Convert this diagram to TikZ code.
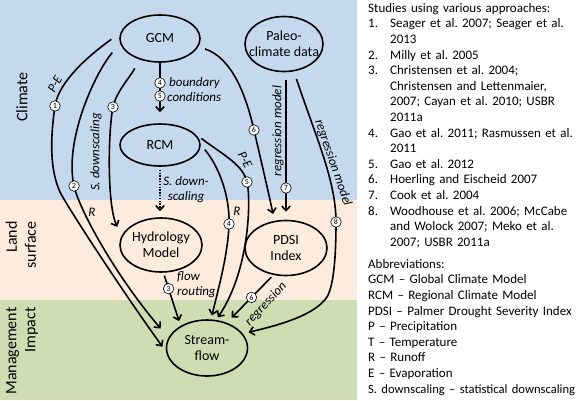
\documentclass[tikz,border=0pt]{standalone}
\usepackage{fontspec}
\setmainfont{Carlito}
\usetikzlibrary{arrows.meta,shapes.geometric}
\definecolor{bandblue}{RGB}{197,217,238}
\definecolor{bandbeige}{RGB}{253,235,221}
\definecolor{bandgreen}{RGB}{207,222,178}
\pgfdeclarelayer{bg}
\pgfdeclarelayer{lines}
\pgfsetlayers{bg,lines,main}
\newcommand\stitem[2]{\par\hangindent=22pt\hangafter=1\noindent\makebox[22pt][l]{#1}#2\par}
\begin{document}
\begin{tikzpicture}[x=1pt,y=-1pt,
  ell/.style={ellipse, draw, line width=1.6pt, inner sep=0pt},
  elltext/.style={align=center, inner sep=0pt, font=\fontsize{14}{16}\selectfont},
  conn/.style={line width=1.6pt, -{Straight Barb[length=4.5pt,width=8.5pt]}},
  num/.style={circle, draw, line width=0.6pt, fill=white, inner sep=0pt, minimum size=10.5pt, font=\fontsize{8}{8}\selectfont},
  lbl/.style={font=\fontsize{13}{15}\selectfont\itshape, inner sep=0pt},
  side/.style={font=\fontsize{16}{19}\selectfont, inner sep=0pt}]
\useasboundingbox (0,0) rectangle (579,400);
\begin{pgfonlayer}{bg}
\fill[bandblue] (0,0) rectangle (357,200);
\fill[bandbeige] (0,200) rectangle (357,300);
\fill[bandgreen] (0,300) rectangle (357,400);
\end{pgfonlayer}

% side labels
\node[side, rotate=90] (lclim) at (22,97) {Climate};
\node[side, rotate=90, align=right] (lland) at (21,245) {Land\\surface};
\node[side, rotate=90, align=right] (lman) at (22,351) {Management\\Impact};

% main nodes
\node[ell, minimum width=80pt, minimum height=47pt, label={[elltext]center:GCM}] (gcm) at (160,38.5) {};
\node[ell, minimum width=80pt, minimum height=42pt, label={[elltext]center:RCM}] (rcm) at (160,145) {};
\node[ell, minimum width=78pt, minimum height=55pt, label={[elltext]center:{Paleo-\\climate data}}] (paleo) at (284,44) {};
\node[ell, minimum width=82pt, minimum height=54pt, label={[elltext]center:{Hydrology\\Model}}] (hm) at (161,245) {};
\node[ell, minimum width=82pt, minimum height=55pt, label={[elltext]center:{PDSI\\Index}}] (pdsi) at (286,248) {};
\node[ell, minimum width=81pt, minimum height=56pt, label={[elltext]center:{Stream-\\flow}}] (sf) at (207,348) {};

% badges on curves
\node[num] (b1) at (55,106) {1};
\node[num] (b2) at (74,186) {2};
\node[num] (b3) at (113,107) {3};
\node[num] (b4a) at (160,83) {4};
\node[num] (b5a) at (160,96) {5};
\node[num] (b4) at (229,224) {4};
\node[num] (b5) at (247,182) {5};
\node[num] (b6) at (254,130) {6};
\node[num] (b7) at (286,188) {7};
\node[num] (b8) at (336,222) {8};

\begin{pgfonlayer}{lines}
% 1: GCM -> Streamflow (P-E)
\draw[conn, shorten <=11pt, shorten >=6pt] (gcm.172) .. controls (88,56) and (58.6,82) .. (b1.center)
  .. controls (50,140) and (50,170) .. (60,192) .. controls (68,208) and (125,295) .. (sf.185);
% 2: GCM -> Streamflow (R)
\draw[conn, shorten <=12pt, shorten >=12pt] (gcm.187) .. controls (95,73) and (64,140) .. (b2.center)
  .. controls (79,209) and (115,275) .. (sf.165);
% 3: GCM -> Hydrology (S. downscaling)
\draw[conn, shorten <=10pt, shorten >=10pt] (gcm.225) .. controls (131,76) and (116,92) .. (b3.center)
  .. controls (108,132) and (107,205) .. (hm.167);
% 4,5: GCM -> RCM
\draw[conn, shorten >=11pt] (gcm.south) -- (rcm.north);
% RCM -> Hydrology dotted
\draw[conn, dash pattern=on 1.4pt off 1.4pt, shorten <=3pt, shorten >=6pt] (rcm.south) -- (rcm.south |- hm.north);
% 4: RCM -> Streamflow (R)
\draw[conn, shorten <=6pt, shorten >=4pt] (rcm.0) .. controls (218,165) and (230,195) .. (b4.center)
  .. controls (228,255) and (218,290) .. (sf.82);
% 5: RCM -> Streamflow (P-E)
\draw[conn, shorten <=8pt, shorten >=3pt] (rcm.18) .. controls (225,156) and (243,165) .. (b5.center)
  .. controls (251,199) and (250,270) .. (sf.72);
% 6: GCM -> PDSI
\draw[conn, shorten <=7pt, shorten >=7pt] (gcm.348) .. controls (232,58) and (246,95) .. (b6.center)
  .. controls (258,147.5) and (268,190) .. (pdsi.113);
% 7: Paleo -> PDSI
\draw[conn, shorten <=8pt, shorten >=8pt] (pdsi.north |- paleo.south) -- (pdsi.north);
% 8: Paleo -> Streamflow
\draw[conn, shorten <=8pt, shorten >=6pt] (paleo.290) .. controls (315,135) and (336,180) .. (b8.center)
  .. controls (336,255) and (334,285) .. (327,297) .. controls (315,315) and (280,325) .. (sf.22);
% 3: Hydrology -> Streamflow (flow routing)
\draw[conn, shorten <=3pt, shorten >=5pt] (hm.275) -- node[num, pos=0.3] (b3b) {3} (sf.140);
% 6: PDSI -> Streamflow (regression)
\draw[conn, shorten <=3pt, shorten >=7pt] (pdsi.245) -- node[num, pos=0.47] (b6b) {6} (sf.52);
\end{pgfonlayer}

% connector labels
\node[lbl, rotate=62] (tpe1) at (55,84) {P-E};
\node[lbl] (tr2) at (92,212) {R};
\node[lbl, rotate=90] (tsd) at (96,152) {S. downscaling};
\node[lbl, anchor=west] (tbd) at (169,83) {boundary};
\node[lbl, anchor=west] (tcd) at (167,97) {conditions};
\node[lbl, align=center] (tsd2) at (186,190) {S. down-\\scaling};
\node[lbl] (tr4) at (237,211) {R};
\node[lbl, rotate=-62] (tpe5) at (245,160) {P-E};
\node[lbl, rotate=90] (trm7) at (278,131) {regression model};
\node[lbl, rotate=-71] (trm8) at (333,163) {regression model};
\node[lbl, anchor=west, align=left] (tfr) at (177,285) {flow\\routing};
\node[lbl, rotate=47] (treg) at (266,304) {regression};

% legend text
\node[anchor=north west, inner sep=0pt, text width=230pt, font=\fontsize{13}{15.6}\selectfont] (legend) at (368,3) {%
\frenchspacing
\noindent Studies using various approaches:\par
\stitem{1.}{Seager et al. 2007; Seager et al.\newline 2013}
\stitem{2.}{Milly et al. 2005}
\stitem{3.}{Christensen et al. 2004;\newline Christensen and Lettenmaier,\newline 2007; Cayan et al. 2010; USBR\newline 2011a}
\stitem{4.}{Gao et al. 2011; Rasmussen et al.\newline 2011}
\stitem{5.}{Gao et al. 2012}
\stitem{6.}{Hoerling and Eischeid 2007}
\stitem{7.}{Cook et al. 2004}
\stitem{8.}{Woodhouse et al. 2006; McCabe\newline and Wolock 2007; Meko et al.\newline 2007; USBR 2011a}
\vspace{6.5pt}
\noindent Abbreviations:\par
\noindent GCM -- Global Climate Model\par
\noindent RCM -- Regional Climate Model\par
\noindent PDSI -- Palmer Drought Severity Index\par
\noindent P -- Precipitation\par
\noindent T -- Temperature\par
\noindent R -- Runoff\par
\noindent E -- Evaporation\par
\noindent{\fontsize{12.6}{15.6}\selectfont S. downscaling -- statistical downscaling}\par};
\end{tikzpicture}
\end{document}
